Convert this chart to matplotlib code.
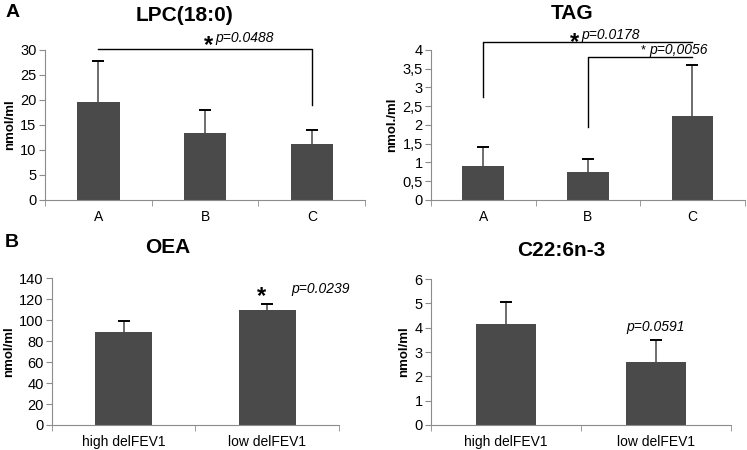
import numpy as np
import matplotlib.pyplot as plt

plt.rcParams['font.family'] = ['Liberation Sans', 'DejaVu Sans']

# panel A data
groups_abc = ['A', 'B', 'C']
lpc_mean = [19.6, 13.4, 11.2]
lpc_top = [27.7, 18.0, 13.9]
tag_mean = [0.89, 0.74, 2.24]
tag_top = [1.40, 1.08, 3.60]

# panel B data
groups_fev = ['high delFEV1', 'low delFEV1']
oea_mean = [89.0, 110.0]
oea_top = [99.0, 115.5]
dha_mean = [4.15, 2.60]
dha_top = [5.08, 3.48]

bar_col = '#4a4a4a'
axis_col = '#8c8c8c'


def excel_bars(ax, labels, means, tops, ymax, ystep, ticklabels=None):
    x = np.arange(len(labels))
    ax.bar(x, means, width=0.4, color=bar_col, zorder=2)
    # upper error bars only
    ax.vlines(x, means, tops, color='#555555', lw=1.2, zorder=3)
    ax.plot(x, tops, ls='none', marker='_', ms=8, mew=1.4, color='black', zorder=3)
    ax.set_xlim(-0.5, len(labels) - 0.5)
    ax.set_ylim(0, ymax)
    yt = np.arange(0, ymax + ystep / 2, ystep)
    ax.set_yticks(yt)
    if ticklabels is not None:
        ax.set_yticklabels(ticklabels)
    ax.set_xticks(x)
    ax.set_xticklabels(labels, fontsize=10)
    ax.set_xticks(np.arange(len(labels) + 1) - 0.5, minor=True)
    ax.tick_params(axis='x', which='major', length=0, pad=7)
    ax.tick_params(axis='x', which='minor', length=4, color=axis_col)
    ax.tick_params(axis='y', length=4, color=axis_col, labelsize=10.5, pad=2)
    for s in ['top', 'right']:
        ax.spines[s].set_visible(False)
    for s in ['left', 'bottom']:
        ax.spines[s].set_color(axis_col)
    ax.set_ylabel('nmol/ml', fontsize=9.5, fontweight='bold', labelpad=3)
    return x


fig = plt.figure(figsize=(7.47, 4.5), dpi=100)

# LPC(18:0)
ax1 = fig.add_axes([0.060, 0.556, 0.429, 0.333])
x = excel_bars(ax1, groups_abc, lpc_mean, lpc_top, 30, 5)
ax1.plot([x[0], x[2], x[2]], [30.2, 30.2, 19.0], color='black', lw=1, clip_on=False)
ax1.text(1.03, 30.9, '*', fontsize=17, fontweight='bold', ha='center', va='center')
ax1.text(1.37, 32.4, 'p=0.0488', fontsize=10, style='italic', ha='center', va='center')
fig.text(0.247, 0.966, 'LPC(18:0)', fontsize=15, fontweight='bold', ha='center', va='center')

# TAG
ax2 = fig.add_axes([0.577, 0.556, 0.420, 0.333])
x = excel_bars(ax2, groups_abc, tag_mean, tag_top, 4, 0.5,
               ['0', '0,5', '1', '1,5', '2', '2,5', '3', '3,5', '4'])
ax2.plot([x[0], x[0], x[2]], [2.75, 4.2, 4.2], color='black', lw=1, clip_on=False)
ax2.plot([x[1], x[1], x[2]], [1.95, 3.82, 3.82], color='black', lw=1, clip_on=False)
ax2.text(0.87, 4.2, '*', fontsize=17, fontweight='bold', ha='center', va='center')
ax2.text(1.22, 4.4, 'p=0.0178', fontsize=10, style='italic', ha='center', va='center')
ax2.text(1.53, 4.0, '*', fontsize=9, ha='center', va='center')
ax2.text(1.87, 3.99, 'p=0,0056', fontsize=10, style='italic', ha='center', va='center')
ax2.set_ylabel('nmol./ml', fontsize=9.5, fontweight='bold', labelpad=3)
fig.text(0.766, 0.969, 'TAG', fontsize=15, fontweight='bold', ha='center', va='center')

# OEA
ax3 = fig.add_axes([0.0696, 0.0556, 0.3842, 0.326])
x = excel_bars(ax3, groups_fev, oea_mean, oea_top, 140, 20)
ax3.text(0.96, 123, '*', fontsize=17, fontweight='bold', ha='center', va='center')
ax3.text(1.37, 130, 'p=0.0239', fontsize=10, style='italic', ha='center', va='center')
fig.text(0.225, 0.449, 'OEA', fontsize=15, fontweight='bold', ha='center', va='center')

# C22:6n-3
ax4 = fig.add_axes([0.577, 0.0556, 0.4016, 0.324])
x = excel_bars(ax4, groups_fev, dha_mean, dha_top, 6, 1)
ax4.text(x[1], 4.03, 'p=0.0591', fontsize=10, style='italic', ha='center', va='center')
fig.text(0.751, 0.444, 'C22:6n-3', fontsize=15, fontweight='bold', ha='center', va='center')

fig.text(0.007, 0.972, 'A', fontsize=14, fontweight='bold', ha='left', va='center')
fig.text(0.007, 0.462, 'B', fontsize=14, fontweight='bold', ha='left', va='center')

fig.savefig('out.png', dpi=100)
